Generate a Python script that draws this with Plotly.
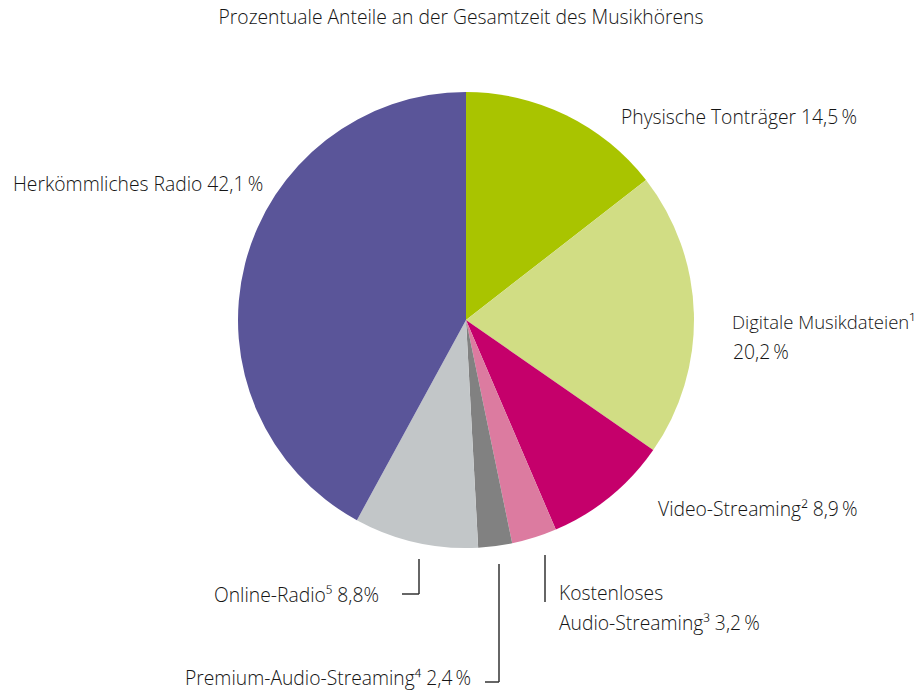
import plotly.graph_objects as go

# Anteile in Prozent, im Uhrzeigersinn ab 12 Uhr
kategorien = [
    "Physische Tonträger",
    "Digitale Musikdateien",
    "Video-Streaming",
    "Kostenloses Audio-Streaming",
    "Premium-Audio-Streaming",
    "Online-Radio",
    "Herkömmliches Radio",
]
anteile = [14.5, 20.2, 8.9, 3.2, 2.4, 8.8, 42.1]
fussnoten = ["", "¹", "²", "³", "⁴", "⁵", ""]
farben = ["#a9c400", "#d1dd84", "#c5006b", "#dc7ba0", "#818181", "#c2c6c8", "#5a5599"]

titel = "Prozentuale Anteile an der Gesamtzeit des Musikhörens"

def prozent(v, leer="\u2009"):
    return f"{v:.1f}".replace(".", ",") + leer + "%"

W, H = 922, 691
schrift = dict(family="Open Sans, DejaVu Sans, sans-serif", size=19.3, color="#151515", weight=300)

fig = go.Figure(
    go.Pie(
        labels=kategorien,
        values=anteile,
        sort=False,
        direction="clockwise",
        rotation=0,
        marker=dict(colors=farben, line=dict(width=0)),
        textinfo="none",
        hoverinfo="label+percent",
        showlegend=False,
        domain=dict(x=[238 / W, 694 / W], y=[1 - 548 / H, 1 - 92 / H]),
    )
)

def px(x):
    return x / W

def py(y):
    return 1 - y / H

def notiz(text, x, y, anker="left", groesse=None):
    f = dict(schrift)
    if groesse:
        f["size"] = groesse
    fig.add_annotation(
        text=text, x=px(x), y=py(y), xref="paper", yref="paper",
        xanchor=anker, yanchor="middle", showarrow=False, font=f, align="left",
    )

notiz(f"{kategorien[0]} {prozent(anteile[0])}", 619, 116)
notiz(f"{kategorien[1]}{fussnoten[1]}", 730, 321, groesse=18.5)
notiz(prozent(anteile[1]), 731, 352)
notiz(f"{kategorien[2]}{fussnoten[2]} {prozent(anteile[2])}", 656, 508)
notiz("Kostenloses", 557, 592)
notiz(f"Audio-Streaming{fussnoten[3]} {prozent(anteile[3])}", 557, 622)
notiz(f"{kategorien[4]}{fussnoten[4]} {prozent(anteile[4])}", 473, 677, "right")
notiz(f"{kategorien[5]}{fussnoten[5]} {prozent(anteile[5], '')}", 381, 594, "right")
notiz(f"{kategorien[6]} {prozent(anteile[6])}", 11, 183)

# Führungslinien
linie = dict(color="#333333", width=1.5)
for x0, y0, x1, y1 in [
    (419, 559, 419, 594), (402, 594, 419, 594),
    (499, 564, 499, 682), (485, 682, 499, 682),
    (545, 555, 545, 602),
]:
    fig.add_shape(type="line", xref="paper", yref="paper",
                  x0=px(x0), y0=py(y0), x1=px(x1), y1=py(y1), line=linie)

fig.update_layout(
    width=W, height=H,
    margin=dict(l=0, r=0, t=0, b=0),
    paper_bgcolor="white",
    plot_bgcolor="white",
    title=dict(text=titel, x=0.5, xanchor="center", y=1 - 17 / H, yanchor="middle",
               font=schrift),
)

fig.write_html("out.html", config={"displayModeBar": False},
               post_script="document.body.style.margin='0';")
